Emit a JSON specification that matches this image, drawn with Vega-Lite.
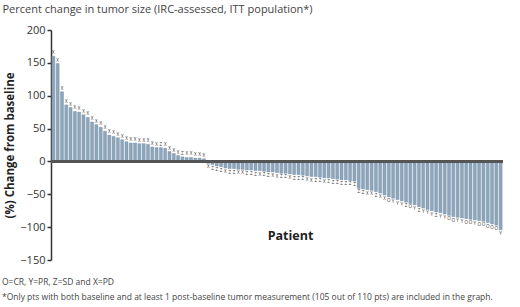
{
  "$schema": "https://vega.github.io/schema/vega-lite/v6.json",
  "width": 452,
  "height": 230,
  "autosize": "none",
  "padding": {"left": 51, "top": 30, "right": 17, "bottom": 47},
  "background": "white",
  "config": {"view": {"stroke": null}, "font": "Open Sans"},
  "title": {
    "text": ["O=CR, Y=PR, Z=SD and X=PD", "*Only pts with both baseline and at least 1 post-baseline tumor measurement (105 out of 110 pts) are included in the graph."],
    "orient": "bottom", "anchor": "start", "frame": "bounds",
    "fontSize": 8.5, "fontWeight": "normal", "color": "#444", "lineHeight": 15, "offset": 13
  },
  "data": {"values": [
    {"patient": 1, "pct": 160, "resp": "X"}, {"patient": 2, "pct": 149, "resp": "X"}, {"patient": 3, "pct": 106, "resp": "X"},
    {"patient": 4, "pct": 86, "resp": "X"}, {"patient": 5, "pct": 82, "resp": "X"}, {"patient": 6, "pct": 76, "resp": "X"},
    {"patient": 7, "pct": 75, "resp": "X"}, {"patient": 8, "pct": 71, "resp": "X"}, {"patient": 9, "pct": 67, "resp": "X"},
    {"patient": 10, "pct": 60, "resp": "X"}, {"patient": 11, "pct": 56, "resp": "X"}, {"patient": 12, "pct": 52, "resp": "X"},
    {"patient": 13, "pct": 46, "resp": "X"}, {"patient": 14, "pct": 40, "resp": "X"}, {"patient": 15, "pct": 38, "resp": "X"},
    {"patient": 16, "pct": 36, "resp": "X"}, {"patient": 17, "pct": 33, "resp": "X"}, {"patient": 18, "pct": 30, "resp": "X"},
    {"patient": 19, "pct": 28, "resp": "X"}, {"patient": 20, "pct": 28, "resp": "X"}, {"patient": 21, "pct": 27, "resp": "X"},
    {"patient": 22, "pct": 27, "resp": "X"}, {"patient": 23, "pct": 26, "resp": "X"}, {"patient": 24, "pct": 22, "resp": "X"},
    {"patient": 25, "pct": 21, "resp": "X"}, {"patient": 26, "pct": 21, "resp": "Z"}, {"patient": 27, "pct": 20, "resp": "X"},
    {"patient": 28, "pct": 15, "resp": "X"}, {"patient": 29, "pct": 12, "resp": "X"}, {"patient": 30, "pct": 9, "resp": "X"},
    {"patient": 31, "pct": 7, "resp": "Z"}, {"patient": 32, "pct": 6, "resp": "X"}, {"patient": 33, "pct": 6, "resp": "X"},
    {"patient": 34, "pct": 5, "resp": "X"}, {"patient": 35, "pct": 5, "resp": "X"}, {"patient": 36, "pct": 4, "resp": "X"},
    {"patient": 37, "pct": -3, "resp": "X"}, {"patient": 38, "pct": -5, "resp": "Z"}, {"patient": 39, "pct": -7, "resp": "Z"},
    {"patient": 40, "pct": -8, "resp": "Z"}, {"patient": 41, "pct": -10, "resp": "X"}, {"patient": 42, "pct": -11, "resp": "Z"},
    {"patient": 43, "pct": -11, "resp": "Z"}, {"patient": 44, "pct": -12, "resp": "X"}, {"patient": 45, "pct": -12, "resp": "X"},
    {"patient": 46, "pct": -13, "resp": "Z"}, {"patient": 47, "pct": -13, "resp": "Z"}, {"patient": 48, "pct": -14, "resp": "Z"},
    {"patient": 49, "pct": -14, "resp": "X"}, {"patient": 50, "pct": -15, "resp": "Z"}, {"patient": 51, "pct": -16, "resp": "Z"},
    {"patient": 52, "pct": -16, "resp": "X"}, {"patient": 53, "pct": -17, "resp": "X"}, {"patient": 54, "pct": -18, "resp": "Z"},
    {"patient": 55, "pct": -18, "resp": "Z"}, {"patient": 56, "pct": -19, "resp": "X"}, {"patient": 57, "pct": -20, "resp": "Z"},
    {"patient": 58, "pct": -20, "resp": "Z"}, {"patient": 59, "pct": -21, "resp": "Z"}, {"patient": 60, "pct": -22, "resp": "X"},
    {"patient": 61, "pct": -23, "resp": "X"}, {"patient": 62, "pct": -23, "resp": "Z"}, {"patient": 63, "pct": -24, "resp": "Z"},
    {"patient": 64, "pct": -25, "resp": "X"}, {"patient": 65, "pct": -25, "resp": "Z"}, {"patient": 66, "pct": -26, "resp": "Z"},
    {"patient": 67, "pct": -27, "resp": "Z"}, {"patient": 68, "pct": -28, "resp": "Z"}, {"patient": 69, "pct": -28, "resp": "Z"},
    {"patient": 70, "pct": -29, "resp": "Z"}, {"patient": 71, "pct": -30, "resp": "Z"}, {"patient": 72, "pct": -41, "resp": "Z"},
    {"patient": 73, "pct": -42, "resp": "Z"}, {"patient": 74, "pct": -43, "resp": "X"}, {"patient": 75, "pct": -44, "resp": "X"},
    {"patient": 76, "pct": -46, "resp": "Z"}, {"patient": 77, "pct": -48, "resp": "X"}, {"patient": 78, "pct": -51, "resp": "X"},
    {"patient": 79, "pct": -54, "resp": "O"}, {"patient": 80, "pct": -56, "resp": "Y"}, {"patient": 81, "pct": -58, "resp": "Y"},
    {"patient": 82, "pct": -60, "resp": "Y"}, {"patient": 83, "pct": -62, "resp": "Z"}, {"patient": 84, "pct": -64, "resp": "O"},
    {"patient": 85, "pct": -66, "resp": "Y"}, {"patient": 86, "pct": -69, "resp": "Z"}, {"patient": 87, "pct": -71, "resp": "Y"},
    {"patient": 88, "pct": -73, "resp": "Y"}, {"patient": 89, "pct": -75, "resp": "Y"}, {"patient": 90, "pct": -77, "resp": "Z"},
    {"patient": 91, "pct": -78, "resp": "Y"}, {"patient": 92, "pct": -80, "resp": "Y"}, {"patient": 93, "pct": -82, "resp": "O"},
    {"patient": 94, "pct": -84, "resp": "O"}, {"patient": 95, "pct": -85, "resp": "Y"}, {"patient": 96, "pct": -86, "resp": "Y"},
    {"patient": 97, "pct": -87, "resp": "O"}, {"patient": 98, "pct": -88, "resp": "O"}, {"patient": 99, "pct": -89, "resp": "Y"},
    {"patient": 100, "pct": -90, "resp": "O"}, {"patient": 101, "pct": -91, "resp": "O"}, {"patient": 102, "pct": -93, "resp": "O"},
    {"patient": 103, "pct": -95, "resp": "O"}, {"patient": 104, "pct": -97, "resp": "O"}, {"patient": 105, "pct": -104, "resp": "Y"}
  ]},
  "resolve": {"axis": {"x": "independent"}},
  "encoding": {
    "y": {"field": "pct", "type": "quantitative",
          "scale": {"domain": [-150, 200], "nice": false, "zero": false},
          "axis": {"tickCount": 7, "grid": false, "labelOverlap": false,
                   "labelFlush": false, "labelBound": false,
                   "title": "(%) Change from baseline", "titleFontSize": 11.5, "titleFontWeight": "bold",
                   "titleColor": "#222", "titlePadding": 4,
                   "labelFontSize": 11, "labelColor": "#333", "domainColor": "#333", "domainWidth": 1.5,
                   "tickColor": "#333", "tickWidth": 1.5, "tickSize": 4, "labelPadding": 2}}
  },
  "layer": [
    {
      "mark": {"type": "bar", "color": "#8ea6bb", "stroke": "#6d879f", "strokeWidth": 0.4},
      "encoding": {
        "x": {"field": "patient", "type": "ordinal", "sort": null,
              "scale": {"paddingInner": 0.3, "paddingOuter": 0.2},
              "axis": {"orient": "bottom", "labels": false, "ticks": false, "domain": false,
                       "title": "Patient", "titleFontSize": 12.5, "titleFontWeight": "bold", "titleColor": "#222",
                       "titleY": -31, "titleX": 239}}
      }
    },
    {
      "transform": [{"filter": "datum.pct >= 0"}],
      "mark": {"type": "text", "fontSize": 4.5, "color": "#333", "dy": -1, "baseline": "bottom"},
      "encoding": {
        "x": {"field": "patient", "type": "ordinal", "sort": null,
              "axis": {"orient": "top", "labels": false, "ticks": false, "domain": false,
                       "title": "Percent change in tumor size (IRC-assessed, ITT population*)",
                       "titleFontSize": 11, "titleFontWeight": "normal", "titleColor": "#444",
                       "titleAnchor": null, "titleAlign": "left", "titleBaseline": "middle", "titleX": -49, "titleY": -21}},
        "text": {"field": "resp"}
      }
    },
    {
      "transform": [{"filter": "datum.pct < 0"}],
      "mark": {"type": "text", "fontSize": 4.5, "color": "#333", "dy": 1, "baseline": "top"},
      "encoding": {
        "x": {"field": "patient", "type": "ordinal", "sort": null, "axis": null},
        "text": {"field": "resp"}
      }
    },
    {
      "mark": {"type": "rule", "color": "#555", "strokeWidth": 2},
      "encoding": {"y": {"datum": 0}}
    }
  ]
}
